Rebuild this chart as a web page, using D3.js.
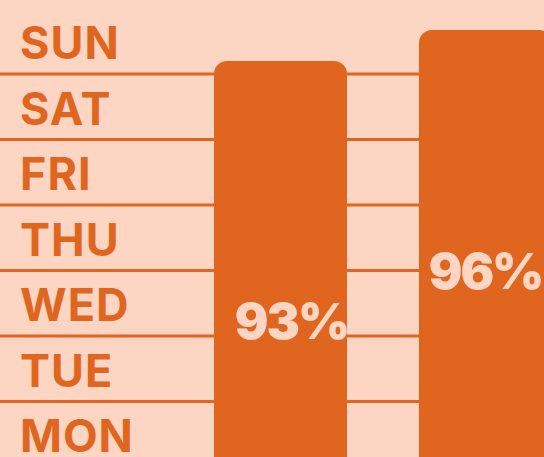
<!DOCTYPE html>
<html>
<head>
<meta charset="utf-8">
<script src="https://cdn.jsdelivr.net/npm/d3@7"></script>
<style>
  html, body { margin: 0; padding: 0; background: #fdd5c3; overflow: hidden; }
</style>
</head>
<body>
<div id="chart"></div>
<script>
// Data
const days = ['SUN', 'SAT', 'FRI', 'THU', 'WED', 'TUE', 'MON']
const groups = ['A', 'B']
const values = [93, 96]
const valueLabels = ['93%', '96%']

function draw() {
  const width = 544
  const height = 457
  const orange = '#e0661f'
  const peach = '#fdd5c3'

  const svg = d3.select('#chart')
    .append('svg')
    .attr('width', width)
    .attr('height', height)

  svg.append('rect')
    .attr('width', width)
    .attr('height', height)
    .attr('fill', peach)

  // Scales
  const dayScale = d3.scaleBand()
    .domain(days)
    .range([8.5, 467])

  const xScale = d3.scaleBand()
    .domain(groups)
    .range([214, 552])
    .paddingInner(0.351)

  // 93 -> 61px, 96 -> 30px
  const yScale = d3.scaleLinear()
    .domain([0, 100])
    .range([1022, -11.3])

  // grid lines between the day rows
  svg.append('g')
    .selectAll('line')
    .data(days.slice(1))
    .join('line')
    .attr('x1', 0)
    .attr('x2', width)
    .attr('y1', d => dayScale(d))
    .attr('y2', d => dayScale(d))
    .attr('stroke', orange)
    .attr('stroke-width', 3)

  // day labels
  svg.append('g')
    .selectAll('text')
    .data(days)
    .join('text')
    .attr('x', 20)
    .attr('y', d => dayScale(d) + dayScale.bandwidth() / 2 + 18)
    .attr('fill', orange)
    .style('font-family', 'Inter, sans-serif')
    .style('font-weight', 700)
    .style('font-size', '45px')
    .style('letter-spacing', '1px')
    .text(d => d)

  // bars
  svg.append('g')
    .selectAll('rect')
    .data(values)
    .join('rect')
    .attr('x', (d, i) => xScale(groups[i]))
    .attr('y', d => yScale(d))
    .attr('width', xScale.bandwidth())
    .attr('height', d => yScale(0) - yScale(d))
    .attr('rx', 13)
    .attr('fill', orange)

  // value labels
  const labelDx = [11, 0]
  const labelDy = [278, 259]
  svg.append('g')
    .selectAll('text')
    .data(values)
    .join('text')
    .attr('x', (d, i) => xScale(groups[i]) + xScale.bandwidth() / 2 + labelDx[i])
    .attr('y', (d, i) => yScale(d) + labelDy[i])
    .attr('text-anchor', 'middle')
    .attr('fill', peach)
    .style('font-family', 'Inter, sans-serif')
    .style('font-weight', 900)
    .style('font-size', '50px')
    .style('letter-spacing', '-2px')
    .text((d, i) => valueLabels[i])
}
draw()
</script>
</body>
</html>
